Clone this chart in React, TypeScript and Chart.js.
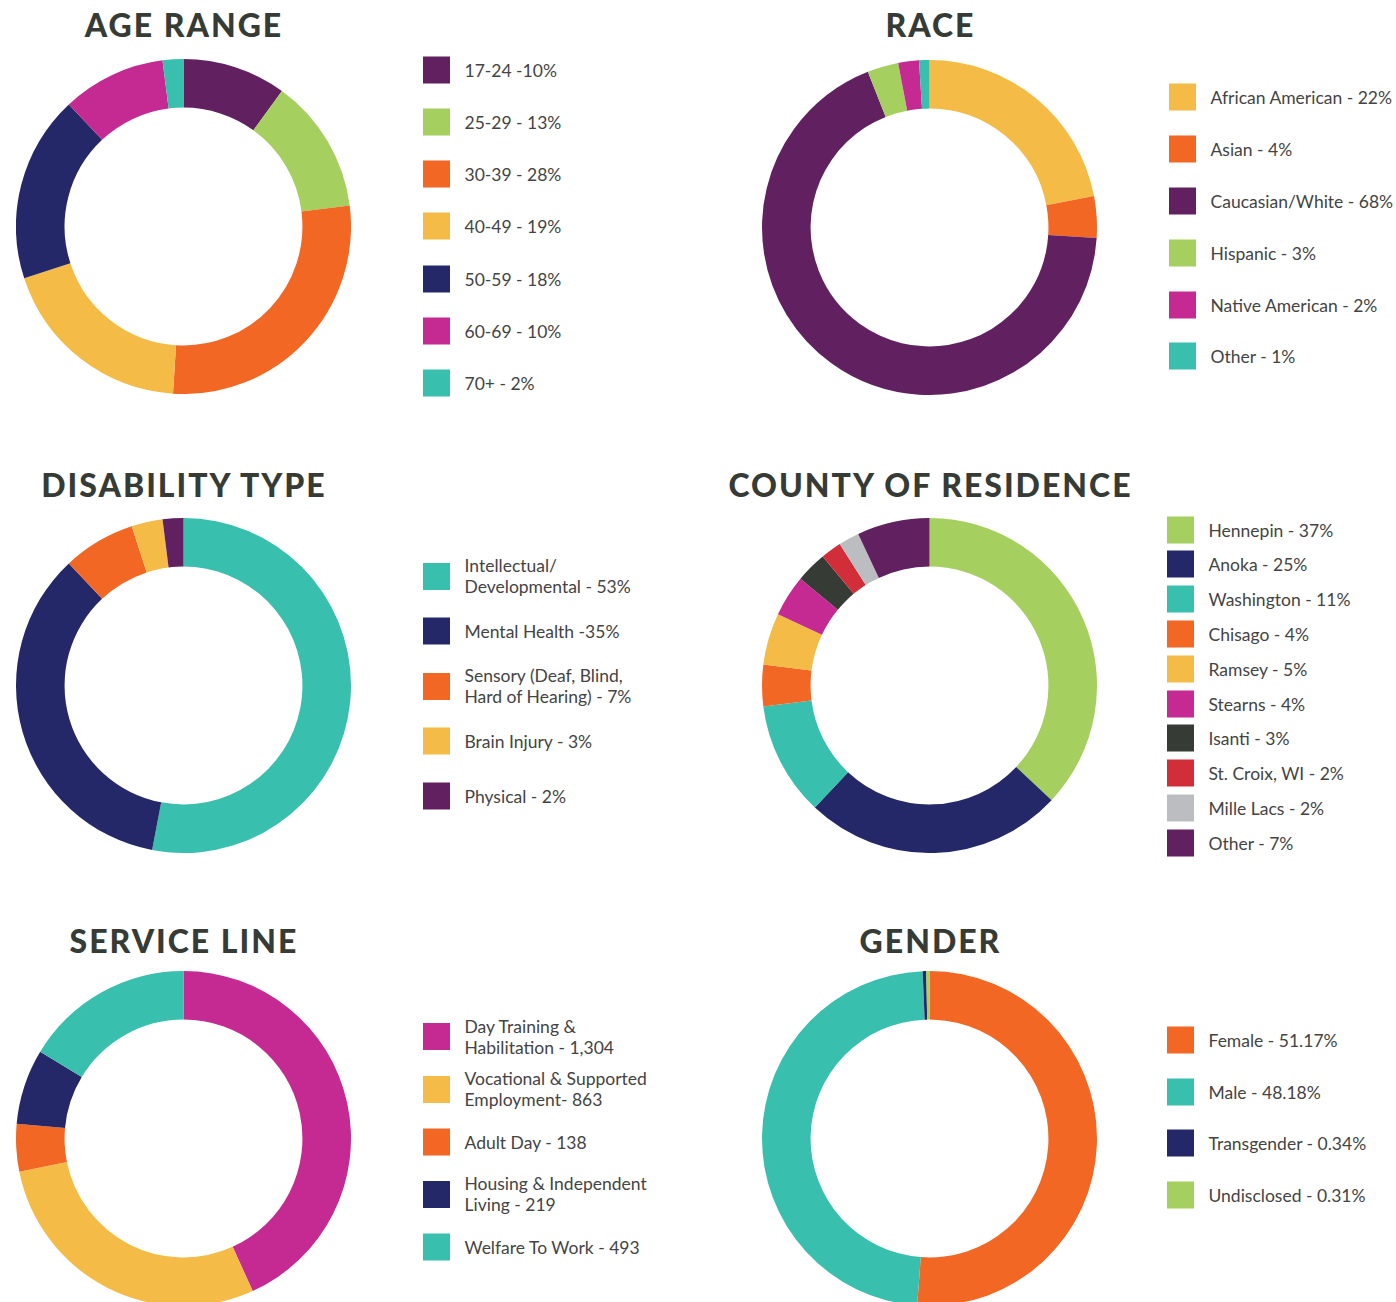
import React, { useEffect, useRef } from "react";
import { Chart, registerables } from "chart.js";

Chart.register(...registerables);

// Palette
const PURPLE = "#612161";
const GREEN = "#a5cf5f";
const ORANGE = "#f26724";
const YELLOW = "#f4bc46";
const NAVY = "#252868";
const MAGENTA = "#c52a92";
const TEAL = "#38bfad";
const CHARCOAL = "#363b35";
const RED = "#d22e3a";
const SILVER = "#bcbdc0";

// ---- Data ----
const ageLabels = ["17-24 -10%", "25-29 - 13%", "30-39 - 28%", "40-49 - 19%", "50-59 - 18%", "60-69 - 10%", "70+ - 2%"];
const ageValues = [10, 13, 28, 19, 18, 10, 2];
const ageColors = [PURPLE, GREEN, ORANGE, YELLOW, NAVY, MAGENTA, TEAL];

const raceLabels = ["African American - 22%", "Asian - 4%", "Caucasian/White - 68%", "Hispanic - 3%", "Native American - 2%", "Other - 1%"];
const raceValues = [22, 4, 68, 3, 2, 1];
const raceColors = [YELLOW, ORANGE, PURPLE, GREEN, MAGENTA, TEAL];

const disabilityLabels = ["Intellectual/\nDevelopmental - 53%", "Mental Health -35%", "Sensory (Deaf, Blind,\nHard of Hearing) - 7%", "Brain Injury - 3%", "Physical - 2%"];
const disabilityValues = [53, 35, 7, 3, 2];
const disabilityColors = [TEAL, NAVY, ORANGE, YELLOW, PURPLE];

const countyLabels = ["Hennepin - 37%", "Anoka - 25%", "Washington - 11%", "Chisago - 4%", "Ramsey - 5%", "Stearns - 4%", "Isanti - 3%", "St. Croix, WI - 2%", "Mille Lacs - 2%", "Other - 7%"];
const countyValues = [37, 25, 11, 4, 5, 4, 3, 2, 2, 7];
const countyColors = [GREEN, NAVY, TEAL, ORANGE, YELLOW, MAGENTA, CHARCOAL, RED, SILVER, PURPLE];

const serviceLabels = ["Day Training &\nHabilitation - 1,304", "Vocational & Supported\nEmployment- 863", "Adult Day - 138", "Housing & Independent\nLiving - 219", "Welfare To Work - 493"];
const serviceValues = [1304, 863, 138, 219, 493];
const serviceColors = [MAGENTA, YELLOW, ORANGE, NAVY, TEAL];

const genderLabels = ["Female - 51.17%", "Male - 48.18%", "Transgender - 0.34%", "Undisclosed - 0.31%"];
const genderValues = [51.17, 48.18, 0.34, 0.31];
const genderColors = [ORANGE, TEAL, NAVY, GREEN];

// ---- Layout ----
type Panel = {
  title: string;
  labels: string[];
  values: number[];
  colors: string[];
  cx: number;
  cy: number;
  titleY: number;
  legendX: number;
  legendY0: number;
  legendPitch: number;
};

const panels: Panel[] = [
  { title: "AGE RANGE", labels: ageLabels, values: ageValues, colors: ageColors, cx: 183, cy: 226.5, titleY: 26, legendX: 423, legendY0: 70.3, legendPitch: 52.05 },
  { title: "RACE", labels: raceLabels, values: raceValues, colors: raceColors, cx: 929.5, cy: 227, titleY: 26, legendX: 1169, legendY0: 97.3, legendPitch: 51.8 },
  { title: "DISABILITY TYPE", labels: disabilityLabels, values: disabilityValues, colors: disabilityColors, cx: 183, cy: 685, titleY: 486, legendX: 423, legendY0: 576, legendPitch: 55 },
  { title: "COUNTY OF RESIDENCE", labels: countyLabels, values: countyValues, colors: countyColors, cx: 929.5, cy: 685, titleY: 486, legendX: 1167, legendY0: 529.5, legendPitch: 34.8 },
  { title: "SERVICE LINE", labels: serviceLabels, values: serviceValues, colors: serviceColors, cx: 183, cy: 1138.5, titleY: 942, legendX: 423, legendY0: 1036.5, legendPitch: 52.6 },
  { title: "GENDER", labels: genderLabels, values: genderValues, colors: genderColors, cx: 929.5, cy: 1138.5, titleY: 942, legendX: 1167, legendY0: 1040, legendPitch: 51.6 },
];

const SIZE = 335;
const TITLE_FS = 32;

function Doughnut({ p }: { p: Panel }) {
  const ref = useRef<HTMLCanvasElement | null>(null);
  useEffect(() => {
    if (!ref.current) return;
    const chart = new Chart(ref.current, {
      type: "doughnut",
      data: {
        labels: p.labels,
        datasets: [
          {
            data: p.values,
            backgroundColor: p.colors,
            borderWidth: 0,
            hoverOffset: 0,
          },
        ],
      },
      options: {
        responsive: false,
        animation: false,
        devicePixelRatio: 1,
        cutout: "71%",
        layout: { padding: 0 },
        plugins: {
          legend: { display: false },
          tooltip: { enabled: false },
        },
      },
    });
    return () => chart.destroy();
  }, [p]);
  return (
    <canvas
      ref={ref}
      width={SIZE}
      height={SIZE}
      style={{ position: "absolute", left: p.cx - SIZE / 2, top: p.cy - SIZE / 2, width: SIZE, height: SIZE }}
    />
  );
}

function PanelView({ p }: { p: Panel }) {
  return (
    <>
      <div
        style={{
          position: "absolute",
          left: p.cx - 300 + 1,
          width: 600,
          top: p.titleY - 17,
          textAlign: "center",
          fontFamily: "Lato, 'Noto Sans', sans-serif",
          fontWeight: 900,
          fontSize: TITLE_FS,
          lineHeight: `${TITLE_FS}px`,
          letterSpacing: "2px",
          color: CHARCOAL,
          whiteSpace: "nowrap",
        }}
      >
        {p.title}
      </div>
      <Doughnut p={p} />
      {p.labels.map((lab, i) => (
        <div
          key={i}
          style={{
            position: "absolute",
            left: p.legendX,
            top: p.legendY0 + i * p.legendPitch,
            transform: "translateY(-50%)",
            display: "flex",
            alignItems: "center",
          }}
        >
          <div style={{ width: 27, height: 27, background: p.colors[i], flex: "0 0 auto", marginRight: 14.5 }} />
          <div
            style={{
              fontFamily: "Lato, 'Noto Sans', sans-serif",
              fontSize: 17.5,
              lineHeight: "21px",
              color: "#444",
              whiteSpace: "pre",
            }}
          >
            {lab}
          </div>
        </div>
      ))}
    </>
  );
}

export default function App() {
  useEffect(() => {
    document.body.style.margin = "0";
  }, []);
  return (
    <div style={{ position: "relative", width: 1396, height: 1302, overflow: "hidden", background: "#fff" }}>
      {panels.map((p, i) => (
        <PanelView key={i} p={p} />
      ))}
    </div>
  );
}
